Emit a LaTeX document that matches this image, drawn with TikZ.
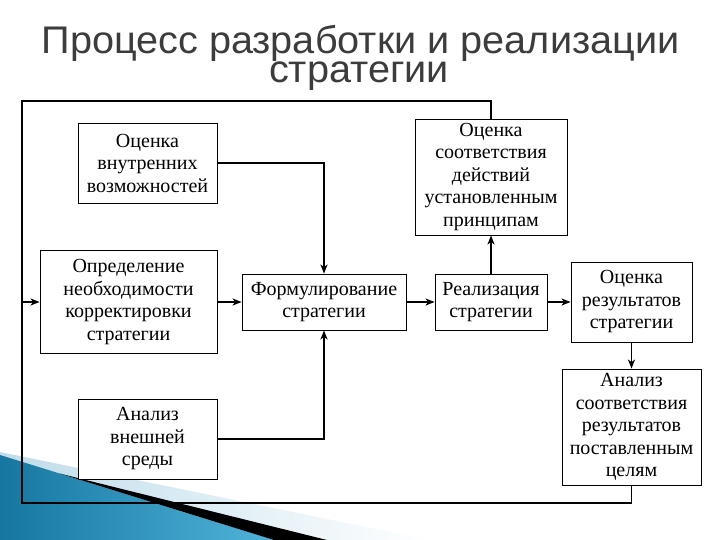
\documentclass[tikz,border=0pt]{standalone}
\usepackage{graphicx}
\usepackage{fontspec}
\setmainfont{Liberation Serif}
\newfontfamily\titlefont{Liberation Sans}
\usetikzlibrary{arrows.meta}
\definecolor{titlegray}{HTML}{3C3C3C}
\definecolor{swblueA}{RGB}{22,118,160}
\definecolor{swblueB}{RGB}{80,180,218}
\definecolor{swlight}{RGB}{190,220,234}
\begin{document}
\begin{tikzpicture}[x=1pt,y=-1pt,
  blk/.style={draw=black,line width=0.9pt,fill=white,align=center,inner sep=0pt,
    font=\fontsize{20}{22.5}\selectfont},
  conn/.style={line width=1.3pt,-{Stealth[length=9pt,width=7pt,inset=2.5pt]}},
  fbline/.style={line width=1.8pt},
  ttl/.style={font=\titlefont\fontsize{38.5}{30}\selectfont,text=titlegray,anchor=base,inner sep=0pt}]
\useasboundingbox (0,0) rectangle (720,540);
% swoosh
\shade[left color=swlight,right color=white] (0,452) -- (430,540) -- (0,540) -- cycle;
\shade[left color=swblueA,right color=swblueB] (0,455) -- (274,540) -- (0,540) -- cycle;
\fill[black] (60,473.6) -- (327,540) -- (274,540) -- cycle;
% title
\node[ttl] (t1) at (360.5,54) {\scalebox{1.03}[1]{Процесс разработки и реализации}};
\node[ttl] (t2) at (359,83) {\scalebox{1.03}[1]{стратегии}};
% boxes
\node[blk,minimum width=139pt,minimum height=80pt] (A) at (147.5,163) {Оценка\\внутренних\\возможностей};
\node[blk,minimum width=177pt,minimum height=103pt] (B) at (128.5,302) {Определение\\необходимости\\корректировки\\стратегии};
\node[blk,minimum width=139pt,minimum height=80pt] (C) at (147.5,439) {Анализ\\внешней\\среды};
\node[blk,minimum width=164pt,minimum height=56pt] (D) at (324,302) {Формулирование\\стратегии};
\node[blk,minimum width=112pt,minimum height=56pt] (E) at (491,302) {Реализация\\стратегии};
\node[blk,minimum width=152pt,minimum height=116pt] (F) at (491,177) {Оценка\\соответствия\\действий\\установленным\\принципам};
\node[blk,minimum width=121pt,minimum height=80pt] (G) at (631.5,302) {Оценка\\результатов\\стратегии};
\node[blk,minimum width=139pt,minimum height=116pt] (H) at (631.5,427) {Анализ\\соответствия\\результатов\\поставленным\\целям};
% connectors
\draw[conn] (A.east) -| (D.north);
\draw[conn] (C.east) -| (D.south);
\draw[conn] (B.east) -- (D.west);
\draw[conn] (D.east) -- (E.west);
\draw[conn] (E.north) -- (F.south);
\draw[conn] (E.east) -- (G.west);
\draw[conn] (G.south) -- (H.north);
\coordinate (fbl) at (22,503);
\coordinate (fbtl) at (22,101);
\coordinate (fin) at (22,302);
\draw[fbline] (H.south) |- (fbl) -- (fbtl) -| (F.north);
\draw[conn] (fin) -- (B.west);
\end{tikzpicture}
\end{document}
